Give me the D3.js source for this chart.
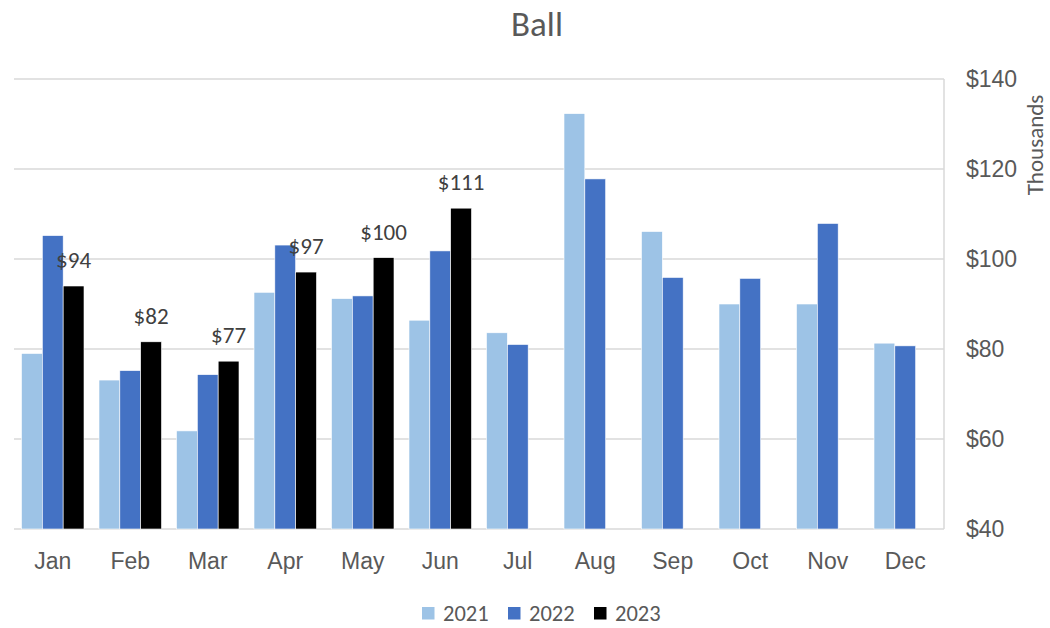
<!DOCTYPE html>
<html>
<head>
<meta charset="utf-8">
<script src="https://cdn.jsdelivr.net/npm/d3@7"></script>
<style>
  body { margin: 0; background: #fff; }
  svg { display: block; font-family: Carlito, Lato, "Liberation Sans", sans-serif; }
</style>
</head>
<body>
<svg id="chart" width="1050" height="628"></svg>
<script>
const months = ["Jan","Feb","Mar","Apr","May","Jun","Jul","Aug","Sep","Oct","Nov","Dec"];
const seriesNames = ["2021","2022","2023"];
const values2021 = [79.0, 73.1, 61.8, 92.6, 91.2, 86.4, 83.6, 132.3, 106.1, 90.0, 90.0, 81.3];
const values2022 = [105.2, 75.2, 74.3, 103.1, 91.8, 101.8, 81.0, 117.8, 95.9, 95.7, 107.9, 80.7];
const values2023 = [94.0, 81.6, 77.3, 97.1, 100.3, 111.3, null, null, null, null, null, null];
const yTicks = [40, 60, 80, 100, 120, 140];
const colors = ["#9DC3E6", "#4472C4", "#000000"];

(function() {
const svg = d3.select("#chart");
const pLeft = 14, pRight = 944, pTop = 79, pBottom = 529;
const textColor = "#595959";

const x = d3.scaleBand().domain(months).range([pLeft, pRight]).paddingInner(0).paddingOuter(0);
const y = d3.scaleLinear().domain([40, 140]).range([pBottom, pTop]);
const inner = d3.scaleBand().domain(seriesNames).range([0, x.bandwidth()]).paddingInner(0).paddingOuter(0.36);

// gridlines
svg.append("g").selectAll("line").data(yTicks).join("line")
  .attr("x1", pLeft).attr("x2", pRight)
  .attr("y1", d => y(d)).attr("y2", d => y(d))
  .attr("stroke", "#d9d9d9").attr("stroke-width", 1.5);
svg.append("line").attr("x1", pRight).attr("x2", pRight).attr("y1", y(140)).attr("y2", y(40))
  .attr("stroke", "#d9d9d9").attr("stroke-width", 1.5);

// bars
const allSeries = [values2021, values2022, values2023];
allSeries.forEach((vals, si) => {
  svg.append("g").selectAll("rect")
    .data(months.map((m, i) => ({m, v: vals[i]})).filter(d => d.v != null))
    .join("rect")
    .attr("x", d => x(d.m) + inner(seriesNames[si]))
    .attr("width", inner.bandwidth())
    .attr("y", d => y(d.v))
    .attr("height", d => y(40) - y(d.v))
    .attr("fill", colors[si])
    .attr("stroke", "#ffffff").attr("stroke-width", 0.6);
});

// data labels for 2023
svg.append("g").selectAll("text")
  .data(months.map((m, i) => ({m, v: values2023[i]})).filter(d => d.v != null))
  .join("text")
  .attr("x", d => x(d.m) + inner("2023") + inner.bandwidth() / 2)
  .attr("y", d => y(d.v) - 18)
  .attr("text-anchor", "middle")
  .attr("font-size", 23)
  .attr("fill", "#404040")
  .text(d => "$" + Math.round(d.v));

// right y axis
const yAxis = d3.axisRight(y).tickValues(yTicks).tickSize(0).tickPadding(22).tickFormat(d => "$" + d);
const ya = svg.append("g").attr("transform", `translate(${pRight},0)`).call(yAxis);
ya.select(".domain").remove();
ya.selectAll("text").attr("font-size", 23).attr("fill", textColor).style("font-family", "inherit");

// x axis
const xAxis = d3.axisBottom(x).tickSize(0).tickPadding(23.5);
const xa = svg.append("g").attr("transform", `translate(0,${pBottom})`).call(xAxis);
xa.select(".domain").remove();
xa.selectAll("text").attr("font-size", 23).attr("fill", textColor).style("font-family", "inherit");

// axis title
svg.append("text")
  .attr("transform", "translate(1043,145) rotate(-90)")
  .attr("text-anchor", "middle")
  .attr("font-size", 23)
  .attr("fill", textColor)
  .text("Thousands");

// title
svg.append("text")
  .attr("x", 537).attr("y", 36)
  .attr("text-anchor", "middle")
  .attr("font-size", 35)
  .attr("fill", textColor)
  .text("Ball");

// legend
const legendX = [422, 508, 594];
const lg = svg.append("g");
seriesNames.forEach((s, i) => {
  lg.append("rect").attr("x", legendX[i]).attr("y", 607).attr("width", 12.5).attr("height", 12.5).attr("fill", colors[i]);
  lg.append("text").attr("x", legendX[i] + 21).attr("y", 621).attr("font-size", 22.5).attr("fill", textColor).text(s);
});
})();
</script>
</body>
</html>
